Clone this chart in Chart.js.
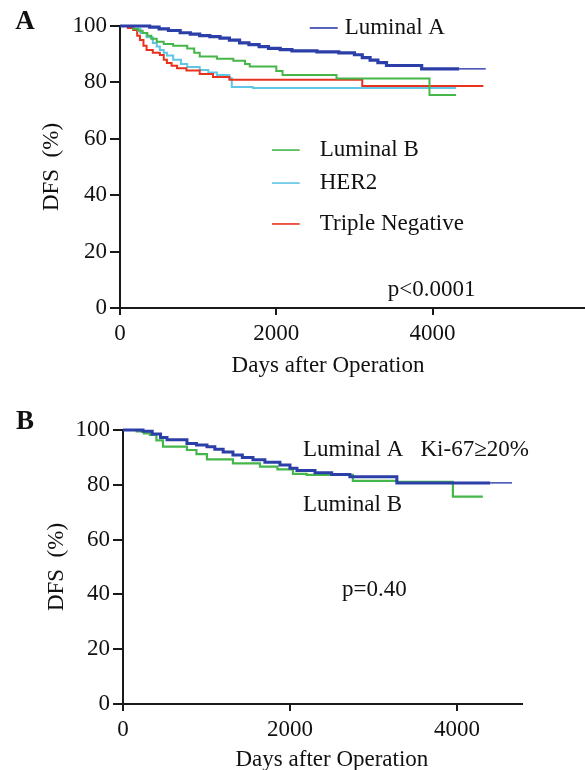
<!DOCTYPE html>
<html>
<head>
<meta charset="utf-8">
<script src="https://cdn.jsdelivr.net/npm/chart.js@4.4.1/dist/chart.umd.min.js"></script>
<style>
  html, body { margin: 0; padding: 0; background: #fff; }
  #wrap { position: relative; width: 585px; height: 770px; }
  canvas { position: absolute; left: 0; }
  #chartA { top: 0; }
  #chartB { top: 390px; }
</style>
</head>
<body>
<div id="wrap">
  <canvas id="chartA" width="585" height="390"></canvas>
  <canvas id="chartB" width="585" height="380"></canvas>
</div>
<script>
const xTicks = [0, 2000, 4000];
const yTicks = [0, 20, 40, 60, 80, 100];

// panel A - DFS by subtype (days, %)
const aLumADays = [0, 380, 500, 620, 770, 900, 1020, 1150, 1280, 1400, 1530, 1650, 1780, 1900, 2050, 2200, 2520, 2800, 3000, 3100, 3200, 3300, 3410, 3860, 4340, 4680];
const aLumAVals = [100, 99.6, 99.0, 98.4, 97.6, 97.1, 96.6, 96.2, 95.7, 95.0, 94.0, 93.4, 92.7, 92.1, 91.6, 91.2, 90.8, 90.5, 89.8, 88.8, 87.9, 87.0, 86.0, 84.8, 84.8, 84.8];
const aLumBDays = [0, 170, 230, 290, 350, 400, 470, 560, 680, 860, 950, 1020, 1240, 1450, 1600, 1660, 2000, 2080, 2770, 3960, 4300];
const aLumBVals = [100, 99.0, 98.3, 97.5, 96.5, 95.5, 94.4, 93.6, 93.0, 92.0, 90.5, 89.2, 88.4, 87.7, 86.5, 85.6, 84.0, 82.6, 81.4, 75.5, 75.5];
const aHer2Days = [0, 170, 260, 340, 420, 470, 510, 560, 600, 680, 780, 860, 1020, 1130, 1240, 1400, 1430, 1700, 4300];
const aHer2Vals = [100, 99.0, 97.5, 96.0, 94.0, 92.7, 91.5, 90.5, 89.5, 88.0, 86.5, 85.5, 84.4, 83.5, 82.6, 81.5, 78.4, 78.0, 78.0];
const aTnDays = [0, 100, 170, 220, 255, 300, 340, 420, 510, 560, 600, 660, 730, 850, 1020, 1190, 1400, 3100, 4650];
const aTnVals = [100, 99.3, 98.6, 96.5, 95.0, 93.0, 91.5, 90.5, 89.7, 88.0, 86.9, 85.9, 85.0, 84.2, 83.0, 81.9, 80.9, 78.7, 78.7];

// panel B - Luminal A Ki-67>=20% vs Luminal B
const bLumADays = [0, 240, 350, 450, 527, 766, 880, 1006, 1100, 1200, 1317, 1430, 1557, 1700, 1880, 2000, 2084, 2300, 2500, 2718, 3281, 4400, 4660];
const bLumAVals = [100, 99.5, 98.5, 97.3, 96.4, 95.1, 94.5, 93.9, 93.0, 92.0, 90.9, 90.0, 89.1, 88.2, 87.2, 86.0, 85.2, 84.4, 83.8, 82.9, 80.7, 80.7, 80.7];
const bLumBDays = [0, 164, 250, 323, 400, 479, 766, 880, 1006, 1317, 1641, 1850, 2036, 2200, 2754, 3281, 3952, 4311];
const bLumBVals = [100, 99.5, 98.8, 98.2, 96.2, 93.9, 92.7, 91.2, 89.3, 87.8, 86.6, 85.6, 84.0, 83.6, 81.4, 81.1, 75.7, 75.7];

const BLUE = '#2c3ea8', GREEN = '#45b649', CYAN = '#5fc6e6', RED = '#e8321f';
const FONT = '"Liberation Serif", "Times New Roman", serif';

function pts(days, vals) {
  return days.map((d, i) => ({ x: d, y: vals[i] }));
}

function curve(label, days, vals, color, width, thinFrom) {
  return {
    label: label,
    data: pts(days, vals),
    borderColor: color,
    borderWidth: width,
    stepped: true,
    pointRadius: 0,
    fill: false,
    clip: false,
    segment: {
      borderWidth: ctx => (thinFrom != null && ctx.p0.parsed.x >= thinFrom) ? 1.4 : width
    }
  };
}

// texts drawn on top (panel letter, x title, legend keys, p value)
const notesPlugin = {
  id: 'notes',
  afterDraw(chart, args, opts) {
    const ctx = chart.ctx;
    const sx = chart.scales.x, sy = chart.scales.y;
    ctx.save();
    ctx.fillStyle = '#111';
    ctx.textBaseline = 'middle';
    ctx.textAlign = 'center';
    ctx.font = 'bold 27px ' + FONT;
    ctx.fillText(opts.letter, opts.letterPos[0], opts.letterPos[1]);
    ctx.font = '23px ' + FONT;
    ctx.fillText(opts.xTitle, sx.getPixelForValue(opts.xTitleAt[0]), opts.xTitleAt[1]);
    ctx.textAlign = 'left';
    opts.items.forEach(it => {
      const px = sx.getPixelForValue(it.x), py = sy.getPixelForValue(it.y);
      if (it.line) {
        ctx.strokeStyle = it.color;
        ctx.lineWidth = 1.6;
        ctx.beginPath();
        ctx.moveTo(sx.getPixelForValue(it.line[0]), py);
        ctx.lineTo(sx.getPixelForValue(it.line[1]), py);
        ctx.stroke();
      }
      ctx.fillText(it.text, px, py);
    });
    ctx.restore();
  }
};

function makeChart(id, datasets, cfg) {
  return new Chart(document.getElementById(id).getContext('2d'), {
    type: 'line',
    data: { datasets: datasets },
    options: {
      responsive: false,
      animation: false,
      events: [],
      layout: { padding: cfg.padding },
      plugins: {
        legend: { display: false },
        tooltip: { enabled: false },
        notes: cfg.notes
      },
      scales: {
        x: {
          type: 'linear',
          min: 0,
          max: cfg.xMax,
          afterBuildTicks: s => { s.ticks = xTicks.map(v => ({ value: v })); },
          afterFit: s => { s.height = cfg.xHeight; },
          grid: { drawOnChartArea: false, drawTicks: true, tickLength: 7, color: '#1a1a1a', lineWidth: 2 },
          border: { display: true, color: '#1a1a1a', width: 2 },
          ticks: { font: { family: FONT, size: 23 }, color: '#111', padding: 5, maxRotation: 0, callback: v => String(v) }
        },
        y: {
          min: 0,
          max: 100,
          afterBuildTicks: s => { s.ticks = yTicks.map(v => ({ value: v })); },
          afterFit: s => { s.width = cfg.yWidth; },
          grid: { drawOnChartArea: false, drawTicks: true, tickLength: 10, color: '#1a1a1a', lineWidth: 2 },
          border: { display: true, color: '#1a1a1a', width: 2 },
          ticks: { font: { family: FONT, size: 23 }, color: '#111', padding: 3, callback: v => String(v) },
          title: {
            display: true,
            text: 'DFS  (%)',
            font: { family: FONT, size: 23 },
            color: '#111',
            padding: { top: cfg.yTitlePad, bottom: 0 }
          }
        }
      }
    },
    plugins: [notesPlugin]
  });
}

makeChart('chartA', [
  curve('Luminal A', aLumADays, aLumAVals, BLUE, 3.2, 4340),
  curve('Luminal B', aLumBDays, aLumBVals, GREEN, 2),
  curve('Triple Negative', aTnDays, aTnVals, RED, 2),
  curve('HER2', aHer2Days, aHer2Vals, CYAN, 2)
], {
  padding: { left: 0, right: 0, top: 26, bottom: 0 },
  xMax: 5950, xHeight: 82, yWidth: 120, yTitlePad: 38,
  notes: {
    letter: 'A', letterPos: [25, 22],
    xTitle: 'Days after Operation', xTitleAt: [2662, 366],
    items: [
      { text: 'Luminal A', x: 2875, y: 99.3, line: [2428, 2786], color: BLUE },
      { text: 'Luminal B', x: 2556, y: 56, line: [1945, 2300], color: GREEN },
      { text: 'HER2', x: 2556, y: 44.3, line: [1945, 2300], color: CYAN },
      { text: 'Triple Negative', x: 2556, y: 29.8, line: [1945, 2300], color: RED },
      { text: 'p<0.0001', x: 3425, y: 6.4 }
    ]
  }
});

makeChart('chartB', [
  curve('Luminal A Ki-67≥20%', bLumADays, bLumAVals, BLUE, 3, 4400),
  curve('Luminal B', bLumBDays, bLumBVals, GREEN, 2.2)
], {
  padding: { left: 0, right: 63, top: 40, bottom: 0 },
  xMax: 4780, xHeight: 66, yWidth: 123, yTitlePad: 43,
  notes: {
    letter: 'B', letterPos: [25, 32],
    xTitle: 'Days after Operation', xTitleAt: [2503, 370],
    items: [
      { text: 'Luminal A   Ki-67≥20%', x: 2156, y: 92.7 },
      { text: 'Luminal B', x: 2156, y: 72.6 },
      { text: 'p=0.40', x: 2623, y: 41.6 }
    ]
  }
});
</script>
</body>
</html>
